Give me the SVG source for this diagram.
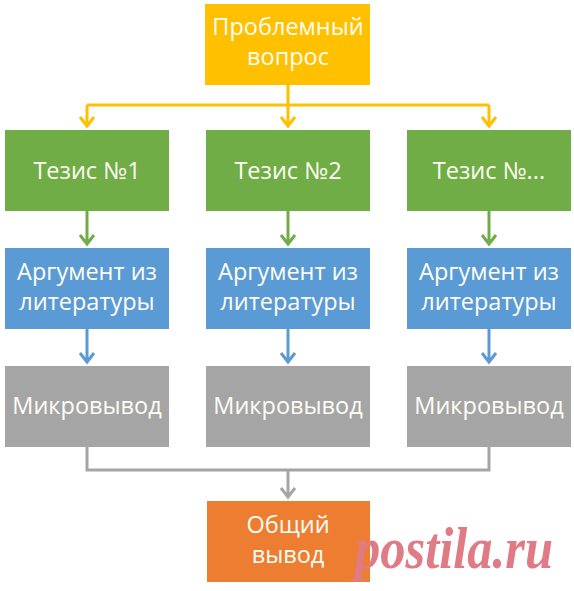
<svg xmlns="http://www.w3.org/2000/svg" width="574" height="591" viewBox="0 0 574 591">
<defs>
<style>
.t{font-family:"Open Sans","Liberation Sans",sans-serif;font-size:23.5px;fill:#FFFDF5;text-anchor:middle}
.c{fill:none;stroke-width:3;stroke-linejoin:miter}
.y{stroke:#FFC000}.g{stroke:#70AD47}.b{stroke:#5B9BD5}.k{stroke:#A5A5A5}
</style>
</defs>
<rect width="574" height="591" fill="#FFFFFF"/>
<g id="connectors">
<path class="c y" d="M288 85V105M87 105H489M87 105V126M288 105V126M489 105V126"/>
<path class="c y" d="M80 117L87 126L94 117M281 117L288 126L295 117M482 117L489 126L496 117"/>
<path class="c g" d="M87 211V244M288 211V244M489 211V244M80 235L87 244L94 235M281 235L288 244L295 235M482 235L489 244L496 235"/>
<path class="c b" d="M87 329V362M288 329V362M489 329V362M80 353L87 362L94 353M281 353L288 362L295 353M482 353L489 362L496 353"/>
<path class="c k" d="M87 447V470H489V447M288 470V497M281 488L288 497L295 488"/>
</g>
<g id="problem">
<rect x="205" y="4" width="165" height="81" fill="#FFC000"/>
<text class="t" x="288" y="35">Проблемный<tspan x="288" dy="30">вопрос</tspan></text>
</g>
<g id="thesis1"><rect x="5" y="130" width="164" height="81" fill="#70AD47"/><text class="t" x="87" y="179">Тезис №1</text></g>
<g id="thesis2"><rect x="206" y="130" width="164" height="81" fill="#70AD47"/><text class="t" x="288" y="179">Тезис №2</text></g>
<g id="thesis3"><rect x="407" y="130" width="164" height="81" fill="#70AD47"/><text class="t" x="489" y="179">Тезис №...</text></g>
<g id="arg1"><rect x="5" y="248" width="164" height="81" fill="#5B9BD5"/><text class="t" x="87" y="280">Аргумент из<tspan x="87" dy="30">литературы</tspan></text></g>
<g id="arg2"><rect x="206" y="248" width="164" height="81" fill="#5B9BD5"/><text class="t" x="288" y="280">Аргумент из<tspan x="288" dy="30">литературы</tspan></text></g>
<g id="arg3"><rect x="407" y="248" width="164" height="81" fill="#5B9BD5"/><text class="t" x="489" y="280">Аргумент из<tspan x="489" dy="30">литературы</tspan></text></g>
<g id="micro1"><rect x="5" y="366" width="164" height="81" fill="#A5A5A5"/><text class="t" x="87" y="414" font-size="24.5">Микровывод</text></g>
<g id="micro2"><rect x="206" y="366" width="164" height="81" fill="#A5A5A5"/><text class="t" x="288" y="414" font-size="24.5">Микровывод</text></g>
<g id="micro3"><rect x="407" y="366" width="164" height="81" fill="#A5A5A5"/><text class="t" x="489" y="414" font-size="24.5">Микровывод</text></g>
<g id="general"><rect x="207" y="501" width="163" height="81" fill="#ED7D31"/><text class="t" x="288" y="533">Общий<tspan x="288" dy="30">вывод</tspan></text></g>
<g id="watermark">
<text x="355" y="568" font-family="Liberation Serif,serif" font-weight="bold" font-style="italic" font-size="60" fill="#E07B86" textLength="198" lengthAdjust="spacingAndGlyphs">postila.ru</text>
</g>
</svg>
